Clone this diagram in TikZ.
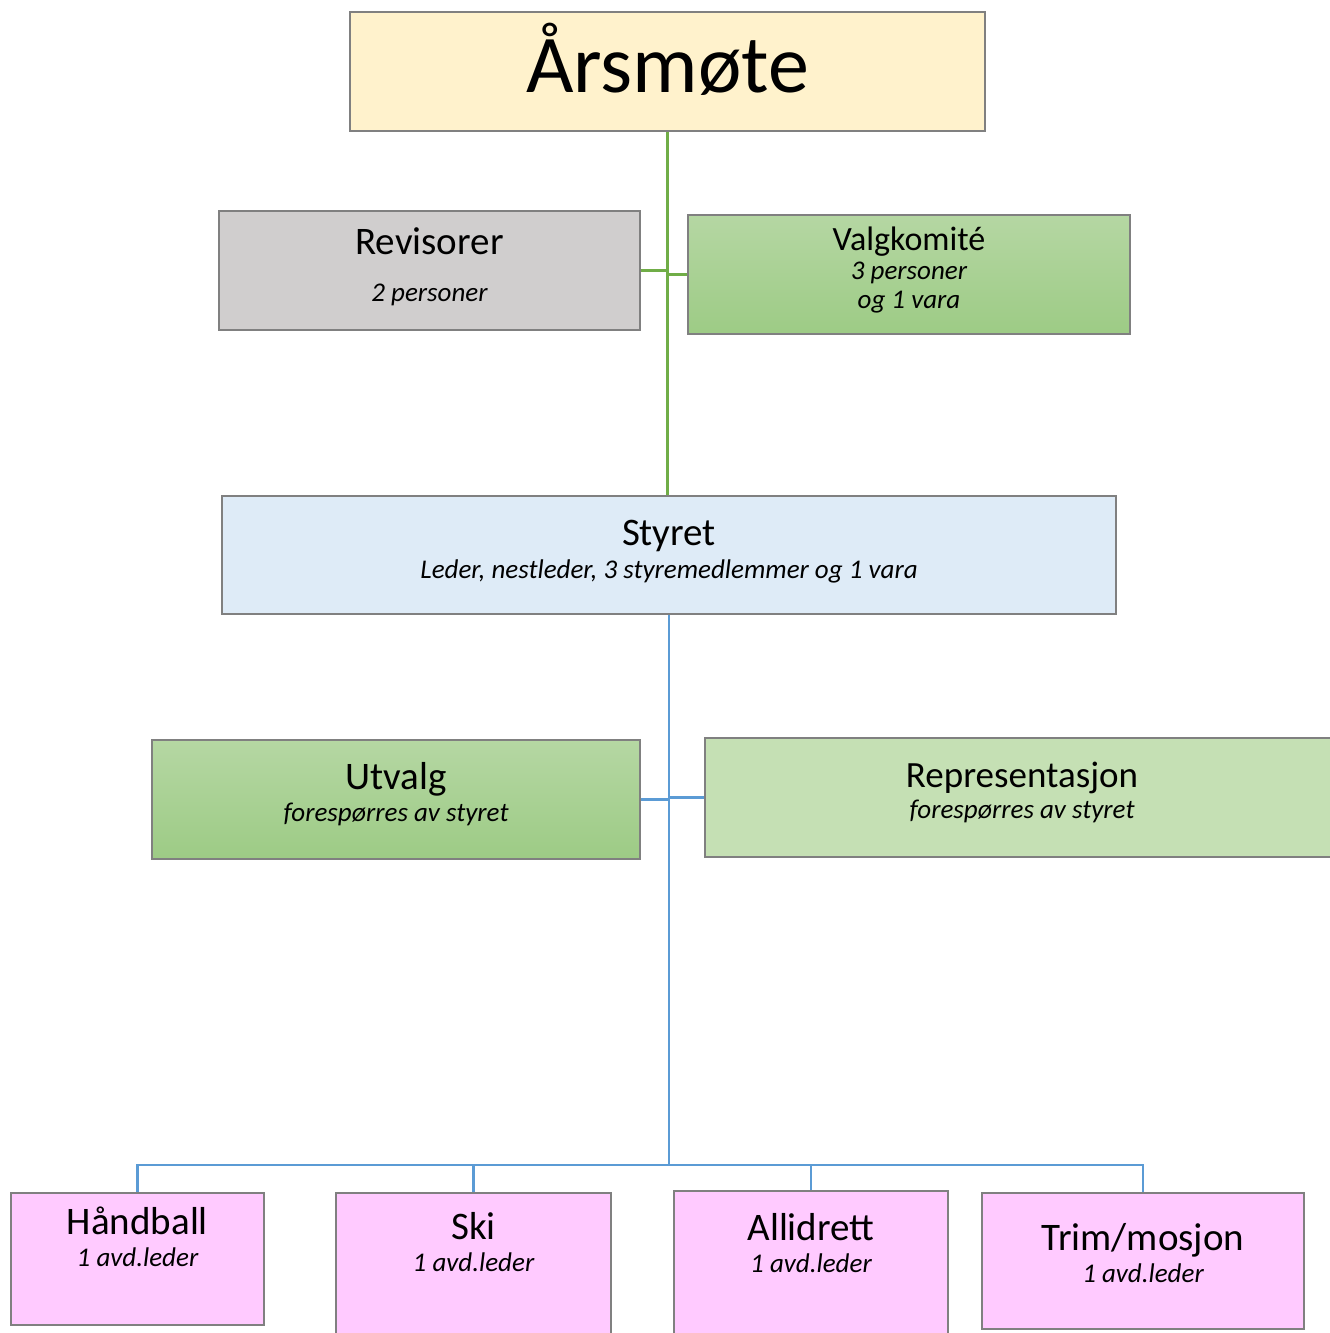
\documentclass[tikz,border=0pt]{standalone}
\usepackage{fontspec}
\setmainfont{Carlito}
\usetikzlibrary{positioning}
\definecolor{yellowbox}{HTML}{FFF2CC}
\definecolor{greybox}{HTML}{D0CECE}
\definecolor{bluebox}{HTML}{DEEBF7}
\definecolor{lightgreen}{HTML}{C5E0B4}
\definecolor{greentop}{HTML}{B5D7A3}
\definecolor{greenbot}{HTML}{9DCB85}
\definecolor{pinkbox}{HTML}{FFCAFF}
\definecolor{greenline}{HTML}{70AD47}
\definecolor{blueline}{HTML}{5B9BD5}
\newcommand{\boxtitle}[1][39]{\fontsize{#1}{#1}\selectfont}
\newcommand{\boxsub}{\fontsize{27}{29}\selectfont\itshape}
\tikzset{box/.style={draw=black!50, line width=1.3pt, inner sep=0pt},
         greenbox/.style={box, top color=greentop, bottom color=greenbot},
         txt/.style={anchor=base, inner sep=0pt, align=center},
         gline/.style={draw=greenline, line width=2.8pt},
         bline/.style={draw=blueline, line width=2.8pt},
        }

\begin{document}
\begin{tikzpicture}[x=1pt, y=-1pt]
        \useasboundingbox (0,0) rectangle (1330,1333);

        \node[box, fill=yellowbox, minimum width=635pt, minimum height=119pt](arsmote)at(667.5,71.5){};
        \node[box, fill=greybox, minimum width=421pt, minimum height=119pt](revisorer)at(429.5,270.5){};
        \node[greenbox, minimum width=442pt, minimum height=119pt](valg)at(909,274.5){};
        \node[box, fill=bluebox, minimum width=894pt, minimum height=118pt](styret)at(669,555){};
        \node[greenbox, minimum width=488pt, minimum height=119pt](utvalg)at(396,799.5){};
        \node[box, fill=lightgreen, minimum width=630pt, minimum height=119pt](repr)at(1020,797.5){};
        \node[box, fill=pinkbox, minimum width=253pt, minimum height=132pt](handball)at(137.5,1259){};
        \node[box, fill=pinkbox, minimum width=275pt, minimum height=150pt](ski)at(473.5,1268){};
        \node[box, fill=pinkbox, minimum width=274pt, minimum height=152pt](allidrett)at(811,1267){};
        \node[box, fill=pinkbox, minimum width=322pt, minimum height=136pt](trim)at(1143,1261){};

        \node[txt](arsmote-t)at(667.5,92){\boxtitle[82]Årsmøte};
        \node[txt](revisorer-t)at(429.5,254){\boxtitle Revisorer};
        \node[txt](revisorer-s)at(429.5,301){\boxsub 2 personer};
        \node[txt](valg-t)at(909,250){\boxtitle[34]Valgkomité};
        \node[txt](valg-s)at(909,279){\boxsub 3 personer};
        \node[txt](valg-s2)at(909,308){\boxsub og 1 vara};
        \node[txt](styret-t)at(669,545){\boxtitle Styret};
        \node[txt](styret-s)at(669,578){\boxsub Leder, nestleder, 3 styremedlemmer og 1 vara};
        \node[txt](utvalg-t)at(396,789){\boxtitle Utvalg};
        \node[txt](utvalg-s)at(396,821){\boxsub forespørres av styret};
        \node[txt](repr-t)at(1022,787){\boxtitle[37]Representasjon};
        \node[txt](repr-s)at(1022,818){\boxsub forespørres av styret};
        \node[txt](handball-t)at(137.5,1234){\boxtitle Håndball};
        \node[txt](handball-s)at(137.5,1266){\boxsub 1 avd.leder};
        \node[txt](ski-t)at(473.5,1239){\boxtitle Ski};
        \node[txt](ski-s)at(473.5,1271){\boxsub 1 avd.leder};
        \node[txt](allidrett-t)at(811,1240){\boxtitle Allidrett};
        \node[txt](allidrett-s)at(811,1272){\boxsub 1 avd.leder};
        \node[txt](trim-t)at(1143,1250){\boxtitle Trim/mosjon};
        \node[txt](trim-s)at(1143,1282){\boxsub 1 avd.leder};

        \coordinate(bus)at(669,1165);

        \draw[gline](arsmote.south)--(arsmote.south |- styret.north);
        \draw[gline](revisorer.east)--(revisorer.east -| arsmote.south);
        \draw[gline](valg.west)--(valg.west -| arsmote.south);

        \draw[bline](styret.south)--(bus);
        \draw[bline](utvalg.east)--(utvalg.east -| styret.south);
        \draw[bline](repr.west)--(repr.west -| styret.south);
        \draw[bline](handball.north)|-(bus)-|(trim.north);
        \draw[bline](ski.north)--(ski.north |- bus);
        \draw[bline](allidrett.north)--(allidrett.north |- bus);
    \end{tikzpicture}
\end{document}
